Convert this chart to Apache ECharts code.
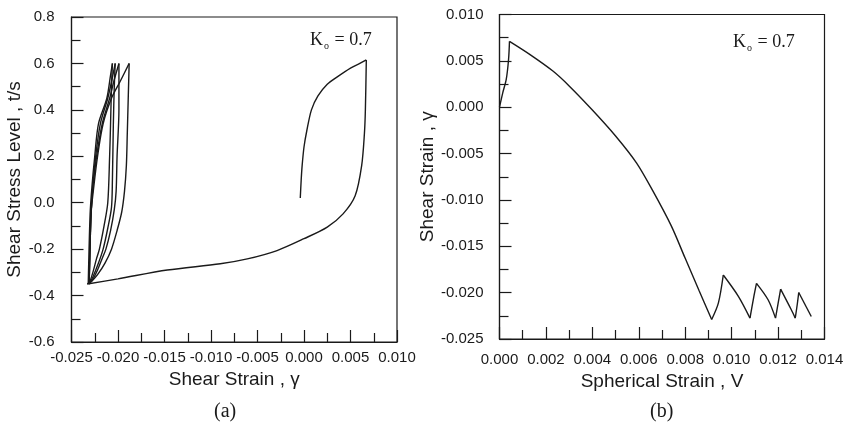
<!DOCTYPE html>
<html><head><meta charset="utf-8">
<script src="https://cdn.jsdelivr.net/npm/echarts@6/dist/echarts.min.js"></script>
<style>html,body{margin:0;padding:0;background:#fff}#c{width:847px;height:428px}</style>
</head><body><div id="c"></div>
<script>
// ---------- Plot (a): shear stress level vs shear strain ----------
const aLoad = [[-0.0004,0.02],[-0.0003,0.10],[-0.0002,0.16],[0.0000,0.24],[0.0003,0.31],[0.0008,0.40],[0.0015,0.46],[0.0025,0.51],[0.0035,0.54],[0.0050,0.58],[0.0060,0.60],[0.0067,0.615]];
const aUnload0 = [[0.0067,0.615],[0.0066,0.40],[0.0065,0.30],[0.0062,0.16],[0.0055,0.03],[0.0042,-0.048],[0.0025,-0.105],[0.0000,-0.155],[-0.0029,-0.206],[-0.0061,-0.242],[-0.0090,-0.263],[-0.0147,-0.290],[-0.0200,-0.328],[-0.0233,-0.35]];
const aReload1 = [[-0.0233,-0.35],[-0.0228,-0.337],[-0.0222,-0.31],[-0.0214,-0.26],[-0.0207,-0.20],[-0.0201,-0.12],[-0.0196,-0.04],[-0.0193,0.05],[-0.0191,0.16],[-0.0190,0.30],[-0.0189,0.45],[-0.0188,0.60]];
const aUnload1 = [[-0.0188,0.60],[-0.0198,0.52],[-0.0207,0.45],[-0.0216,0.34],[-0.0222,0.20],[-0.0226,0.07],[-0.0229,-0.05],[-0.0231,-0.35]];
const aReload2 = [[-0.0231,-0.35],[-0.0227,-0.33],[-0.0222,-0.29],[-0.0217,-0.24],[-0.0213,-0.20],[-0.0208,-0.12],[-0.0204,-0.03],[-0.0202,0.05],[-0.0201,0.20],[-0.0199,0.40],[-0.0199,0.60]];
const aUnload2 = [[-0.0199,0.60],[-0.0204,0.53],[-0.0209,0.45],[-0.0217,0.34],[-0.0223,0.20],[-0.0227,0.07],[-0.0229,-0.05],[-0.0231,-0.35]];
const aReload3 = [[-0.0231,-0.35],[-0.0227,-0.32],[-0.0221,-0.26],[-0.0216,-0.20],[-0.0211,-0.11],[-0.0207,-0.02],[-0.0206,0.10],[-0.0205,0.34],[-0.0204,0.50],[-0.0203,0.60]];
const aUnload3 = [[-0.0203,0.60],[-0.0206,0.54],[-0.0211,0.45],[-0.0219,0.34],[-0.0224,0.20],[-0.0227,0.07],[-0.0229,-0.05],[-0.0231,-0.35]];
const aReload4 = [[-0.0231,-0.35],[-0.0227,-0.30],[-0.0223,-0.24],[-0.0220,-0.20],[-0.0215,-0.10],[-0.0211,0.00],[-0.0209,0.20],[-0.0208,0.34],[-0.0207,0.50],[-0.0206,0.60]];
const aUnload4 = [[-0.0206,0.60],[-0.0208,0.55],[-0.0212,0.45],[-0.0221,0.34],[-0.0225,0.20],[-0.0228,0.07],[-0.0230,-0.05],[-0.0232,-0.35]];

// ---------- Plot (b): shear strain vs spherical strain ----------
const bLoad = [[0.0000,0.0000],[0.00014,0.00155],[0.00029,0.0030],[0.00039,0.00515],[0.00043,0.0071]];
const bDecline = [[0.00043,0.0071],[0.0013,0.0057],[0.0023,0.0039],[0.0030,0.0023],[0.0040,-0.0003],[0.0050,-0.0031],[0.0059,-0.0060],[0.0066,-0.0090],[0.0074,-0.0128],[0.0080,-0.0163],[0.0086,-0.0198],[0.00914,-0.0229]];
const bRise1 = [[0.00914,-0.0229],[0.00943,-0.0211],[0.00964,-0.0181]];
const bFall1 = [[0.00964,-0.0181],[0.01029,-0.0204],[0.01079,-0.02275]];
const bRise2 = [[0.01079,-0.02275],[0.01095,-0.0205],[0.01107,-0.0190]];
const bFall2 = [[0.01107,-0.0190],[0.01157,-0.02077],[0.01189,-0.02275]];
const bRise3 = [[0.01189,-0.02275],[0.01202,-0.0209],[0.01211,-0.01962]];
const bFall3 = [[0.01211,-0.01962],[0.01257,-0.02185],[0.01274,-0.02275]];
const bRise4 = [[0.01274,-0.02275],[0.01283,-0.0212],[0.01289,-0.01998]];
const bFall4 = [[0.01289,-0.01998],[0.01343,-0.02257]];

const kLabel = 'K';
const kSub = 'o';
const kValue = ' = 0.7';

const ink = '#1a1a1a';
const sans = 'Liberation Sans, Arial, sans-serif';
const serif = 'Liberation Serif, Times New Roman, serif';

function fmt(dec) {
  return function (v) {
    if (Math.abs(v) < 1e-12) v = 0;
    return (+v).toFixed(dec);
  };
}

function axis(gridIndex, o) {
  return Object.assign({
    type: 'value',
    gridIndex: gridIndex,
    splitLine: { show: false },
    axisLine: { show: true, onZero: false, lineStyle: { color: ink, width: 1.2 } },
    axisTick: { show: true, inside: true, length: 12, lineStyle: { color: ink, width: 1.2 } },
    minorTick: { show: true, splitNumber: 2, length: 9, lineStyle: { color: ink, width: 1.2 } },
    nameLocation: 'middle',
    nameTextStyle: { color: ink, fontFamily: sans, fontSize: 19 }
  }, o);
}
function lbl(margin, dec) {
  return { color: ink, fontFamily: sans, fontSize: 15, margin: margin, formatter: fmt(dec), showMinLabel: true, showMaxLabel: true, hideOverlap: false };
}

const chart = echarts.init(document.getElementById('c'), null, { renderer: 'canvas' });
const lineStyle = { color: ink, width: 1.4 };

function seg(idx, data) {
  return { type: 'line', xAxisIndex: idx, yAxisIndex: idx, showSymbol: false, smooth: 0.3, lineStyle: lineStyle, data: data };
}

const kRich = {
  k: { fontFamily: serif, fontSize: 18, fontWeight: 'normal', color: ink, lineHeight: 22 },
  s: { fontFamily: serif, fontSize: 10, fontWeight: 'normal', color: ink, lineHeight: 22, verticalAlign: 'bottom', padding: [0, 1, 0, 1] }
};

chart.setOption({
  animation: false,
  backgroundColor: '#fff',
  grid: [
    { left: 71.5, top: 17, width: 325.5, height: 325, show: true, borderColor: ink, borderWidth: 1.2, backgroundColor: 'transparent' },
    { left: 499.5, top: 14.5, width: 325, height: 324.5, show: true, borderColor: ink, borderWidth: 1.2, backgroundColor: 'transparent' }
  ],
  title: [
    { text: '{k|' + kLabel + '}{s|' + kSub + '}{k|' + kValue + '}', left: 310, top: 29, padding: 0,
      textStyle: { fontWeight: 'normal', rich: kRich } },
    { text: '{k|' + kLabel + '}{s|' + kSub + '}{k|' + kValue + '}', left: 733, top: 31, padding: 0,
      textStyle: { fontWeight: 'normal', rich: kRich } }
  ],
  graphic: [
    { type: 'text', left: 214, top: 402, style: { text: '(a)', font: '20px ' + serif, fill: ink } },
    { type: 'text', left: 650, top: 402, style: { text: '(b)', font: '20px ' + serif, fill: ink } }
  ],
  xAxis: [
    axis(0, { min: -0.025, max: 0.010, interval: 0.005, name: 'Shear Strain , γ', nameGap: 28, axisLabel: lbl(8, 3) }),
    axis(1, { min: 0, max: 0.014, interval: 0.002, name: 'Spherical Strain , V', nameGap: 29, axisLabel: lbl(13, 3) })
  ],
  yAxis: [
    axis(0, { min: -0.6, max: 0.8, interval: 0.2, name: 'Shear Stress Level , t/s', nameGap: 46, axisLabel: lbl(17, 1) }),
    axis(1, { min: -0.025, max: 0.010, interval: 0.005, name: 'Shear Strain , γ', nameGap: 59, axisLabel: lbl(16, 3) })
  ],
  series: [
    seg(0, aLoad), seg(0, aUnload0),
    seg(0, aReload1), seg(0, aUnload1),
    seg(0, aReload2), seg(0, aUnload2),
    seg(0, aReload3), seg(0, aUnload3),
    seg(0, aReload4), seg(0, aUnload4),
    seg(1, bLoad), seg(1, bDecline),
    seg(1, bRise1), seg(1, bFall1), seg(1, bRise2), seg(1, bFall2),
    seg(1, bRise3), seg(1, bFall3), seg(1, bRise4), seg(1, bFall4)
  ]
});
</script></body></html>
